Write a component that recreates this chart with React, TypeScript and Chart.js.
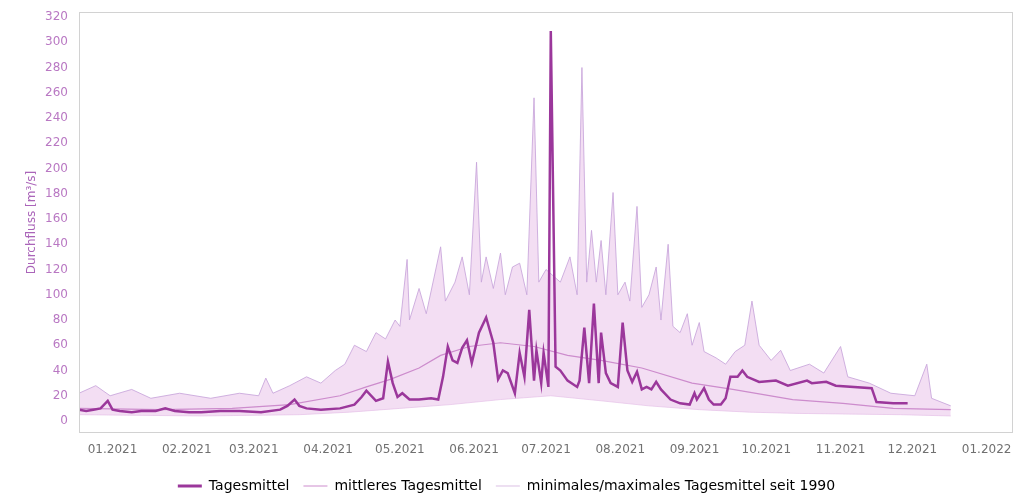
import React, { useEffect, useRef } from "react";
import { Chart, registerables } from "chart.js";

Chart.register(...registerables);

// Days counted from 1 January 2021
const monthTickDays = [0, 31, 59, 90, 120, 151, 181, 212, 243, 273, 304, 334, 365];
const monthTickLabels = [
  "01.2021", "02.2021", "03.2021", "04.2021", "05.2021", "06.2021", "07.2021",
  "08.2021", "09.2021", "10.2021", "11.2021", "12.2021", "01.2022",
];
const yTickValues = [0, 20, 40, 60, 80, 100, 120, 140, 160, 180, 200, 220, 240, 260, 280, 300, 320];

const seriesNames = ["Tagesmittel", "mittleres Tagesmittel", "minimales/maximales Tagesmittel seit 1990"];

const tagesDays = [
  -14, -11, -8, -5, -2, 0, 3, 8, 12, 18,
  22, 26, 32, 37, 45, 53, 62, 70, 73, 76,
  78, 81, 87, 95, 101, 104, 106, 110, 113, 115,
  117, 119, 121, 124, 128, 133, 136, 138, 140, 142,
  144, 146, 148, 150, 153, 156, 159, 161, 163, 165,
  168, 170, 172, 174, 176, 177, 179, 180, 182, 183,
  185, 187, 190, 194, 195, 197, 199, 201, 203, 204,
  206, 208, 211, 213, 215, 217, 219, 221, 223, 225,
  227, 229, 233, 237, 241, 243, 244, 247, 249, 251,
  254, 256, 258, 261, 263, 265, 270, 277, 282, 290,
  292, 298, 302, 317, 319, 326, 332,
];
const tagesValues = [
  9, 8, 9, 10, 16, 9, 8, 7, 8, 8,
  10, 8, 7, 7, 8, 8, 7, 9, 12, 17,
  12, 10, 9, 10, 13, 19, 24, 16, 18, 47,
  30, 19, 22, 17, 17, 18, 17, 35, 59, 48,
  46, 58, 64, 46, 70, 82, 62, 33, 40, 38,
  22, 54, 35, 88, 32, 56, 30, 54, 27, 309,
  43, 40, 32, 27, 32, 74, 30, 93, 30, 70,
  38, 30, 27, 78, 40, 31, 39, 25, 27, 25,
  31, 25, 17, 14, 13, 22, 17, 26, 17, 13,
  13, 18, 35, 35, 40, 35, 31, 32, 28, 32,
  30, 31, 28, 26, 15, 14, 14,
];

const meanDays = [-14, 20, 50, 74, 95, 106, 116, 128, 137, 149, 162, 176, 190, 204, 221, 242, 259, 284, 305, 326, 350];
const meanValues = [10, 9, 10, 13, 20, 27, 33, 42, 52, 59, 62, 59, 52, 48, 42, 30, 25, 17, 14, 10, 9];

const maxDays = [
  -14, -7, -1, 8, 16, 28, 41, 53, 61, 64,
  67, 74, 81, 87, 93, 97, 101, 106, 110, 114,
  118, 120, 123, 124, 128, 131, 137, 139, 143, 146,
  149, 152, 154, 156, 159, 162, 164, 167, 170, 173,
  176, 178, 181, 187, 191, 194, 196, 198, 200, 202,
  204, 206, 209, 211, 214, 216, 219, 221, 224, 227,
  229, 232, 234, 237, 240, 242, 245, 247, 252, 256,
  260, 264, 267, 270, 275, 279, 283, 291, 297, 304,
  307, 316, 325, 335, 340, 342, 350,
];
const maxValues = [
  22, 28, 20, 25, 18, 22, 18, 22, 20, 34,
  22, 28, 35, 30, 40, 45, 60, 55, 70, 65,
  80, 75, 128, 80, 105, 85, 138, 95, 110, 130,
  100, 205, 110, 130, 105, 133, 100, 122, 125, 100,
  256, 110, 120, 110, 130, 100, 280, 110, 151, 110,
  143, 100, 181, 100, 110, 95, 170, 90, 100, 122,
  80, 140, 75, 70, 85, 60, 78, 55, 50, 45,
  55, 60, 95, 60, 48, 56, 40, 45, 38, 59,
  35, 30, 22, 20, 45, 18, 12,
];

const minDays = [-14, 37, 78, 99, 120, 141, 162, 183, 204, 224, 245, 266, 287, 329, 350];
const minValues = [5, 4, 5, 7, 10, 13, 17, 20, 16, 12, 9, 7, 6, 5, 4];

const FONT = "'DejaVu Sans', sans-serif";
const TAGES_COLOR = "#9b379b";
const MEAN_COLOR = "rgb(205,140,205)";
const BAND_BORDER = "rgba(200,165,218,0.85)";
const BAND_FILL = "rgba(232,190,232,0.5)";

const toPoints = (xs: number[], ys: number[]) => xs.map((x, i) => ({ x, y: ys[i] }));

const framePlugin = {
  id: "frame",
  afterDraw(chart: any) {
    const { ctx, chartArea } = chart;
    ctx.save();
    ctx.strokeStyle = "rgb(210,210,210)";
    ctx.lineWidth = 1;
    ctx.strokeRect(
      Math.round(chartArea.left) + 0.5,
      Math.round(chartArea.top) + 0.5,
      Math.round(chartArea.right - chartArea.left) - 1,
      Math.round(chartArea.bottom - chartArea.top) - 1
    );
    ctx.restore();
  },
};

export default function App() {
  const canvasRef = useRef<HTMLCanvasElement | null>(null);

  useEffect(() => {
    if (!canvasRef.current) return;
    const chart = new Chart(canvasRef.current, {
      type: "line",
      data: {
        datasets: [
          {
            label: seriesNames[0],
            data: toPoints(tagesDays, tagesValues),
            borderColor: TAGES_COLOR,
            backgroundColor: TAGES_COLOR,
            borderWidth: 2.5,
            pointRadius: 0,
            fill: false,
            tension: 0,
          },
          {
            label: seriesNames[1],
            data: toPoints(meanDays, meanValues),
            borderColor: MEAN_COLOR,
            backgroundColor: MEAN_COLOR,
            borderWidth: 1.2,
            pointRadius: 0,
            fill: false,
            tension: 0,
          },
          {
            label: seriesNames[2],
            data: toPoints(maxDays, maxValues),
            borderColor: BAND_BORDER,
            backgroundColor: BAND_FILL,
            borderWidth: 1,
            pointRadius: 0,
            fill: "+1",
            tension: 0,
          },
          {
            label: "min",
            data: toPoints(minDays, minValues),
            borderColor: "rgba(225,185,228,0.6)",
            backgroundColor: BAND_FILL,
            borderWidth: 1,
            pointRadius: 0,
            fill: false,
            tension: 0,
          },
        ],
      },
      plugins: [framePlugin],
      options: {
        animation: false,
        responsive: true,
        maintainAspectRatio: false,
        layout: { padding: { left: 0, right: 3, top: 12, bottom: 0 } },
        plugins: {
          tooltip: { enabled: false },
          legend: {
            display: true,
            position: "bottom",
            labels: {
              usePointStyle: true,
              pointStyleWidth: 24,
              padding: 14,
              color: "#444",
              font: { family: FONT, size: 14 },
              generateLabels: () => [
                { text: seriesNames[0], fillStyle: TAGES_COLOR, strokeStyle: TAGES_COLOR, lineWidth: 3, pointStyle: "line", datasetIndex: 0, hidden: false },
                { text: seriesNames[1], fillStyle: MEAN_COLOR, strokeStyle: MEAN_COLOR, lineWidth: 1, pointStyle: "line", datasetIndex: 1, hidden: false },
                { text: seriesNames[2], fillStyle: BAND_FILL, strokeStyle: "rgba(215,185,225,0.9)", lineWidth: 1, pointStyle: "line", datasetIndex: 2, hidden: false },
              ],
            },
          },
        },
        scales: {
          x: {
            type: "linear",
            min: -14,
            max: 376,
            grid: { display: false, drawTicks: false },
            border: { display: false },
            afterBuildTicks: (scale: any) => {
              scale.ticks = monthTickDays.map((v) => ({ value: v }));
            },
            afterFit: (scale: any) => {
              scale.height = 32;
              scale.paddingLeft = 0;
              scale.paddingRight = 0;
            },
            ticks: {
              autoSkip: false,
              maxRotation: 0,
              minRotation: 0,
              padding: 10,
              color: "#707070",
              font: { family: FONT, size: 12 },
              callback: (value: any) => {
                const i = monthTickDays.indexOf(Number(value));
                return i >= 0 ? monthTickLabels[i] : "";
              },
            },
          },
          y: {
            type: "linear",
            min: -9.5,
            max: 324,
            grid: { display: false, drawTicks: false },
            border: { display: false },
            afterBuildTicks: (scale: any) => {
              scale.ticks = yTickValues.map((v) => ({ value: v }));
            },
            afterFit: (scale: any) => {
              scale.width = 79;
              scale.paddingTop = 0;
              scale.paddingBottom = 0;
            },
            ticks: {
              padding: 11,
              color: "rgb(185,120,195)",
              font: { family: FONT, size: 12 },
            },
            title: {
              display: true,
              text: "Durchfluss [m³/s]",
              color: "rgb(170,100,185)",
              font: { family: FONT, size: 12 },
              padding: { top: 25, bottom: 0 },
            },
          },
        },
      },
    });
    return () => chart.destroy();
  }, []);

  return (
    <div style={{ position: "absolute", left: 0, top: 0, width: 1016, height: 495, overflow: "hidden", background: "#fff" }}>
      <div style={{ position: "relative", width: 1016, height: 503 }}>
        <canvas ref={canvasRef} />
      </div>
    </div>
  );
}
